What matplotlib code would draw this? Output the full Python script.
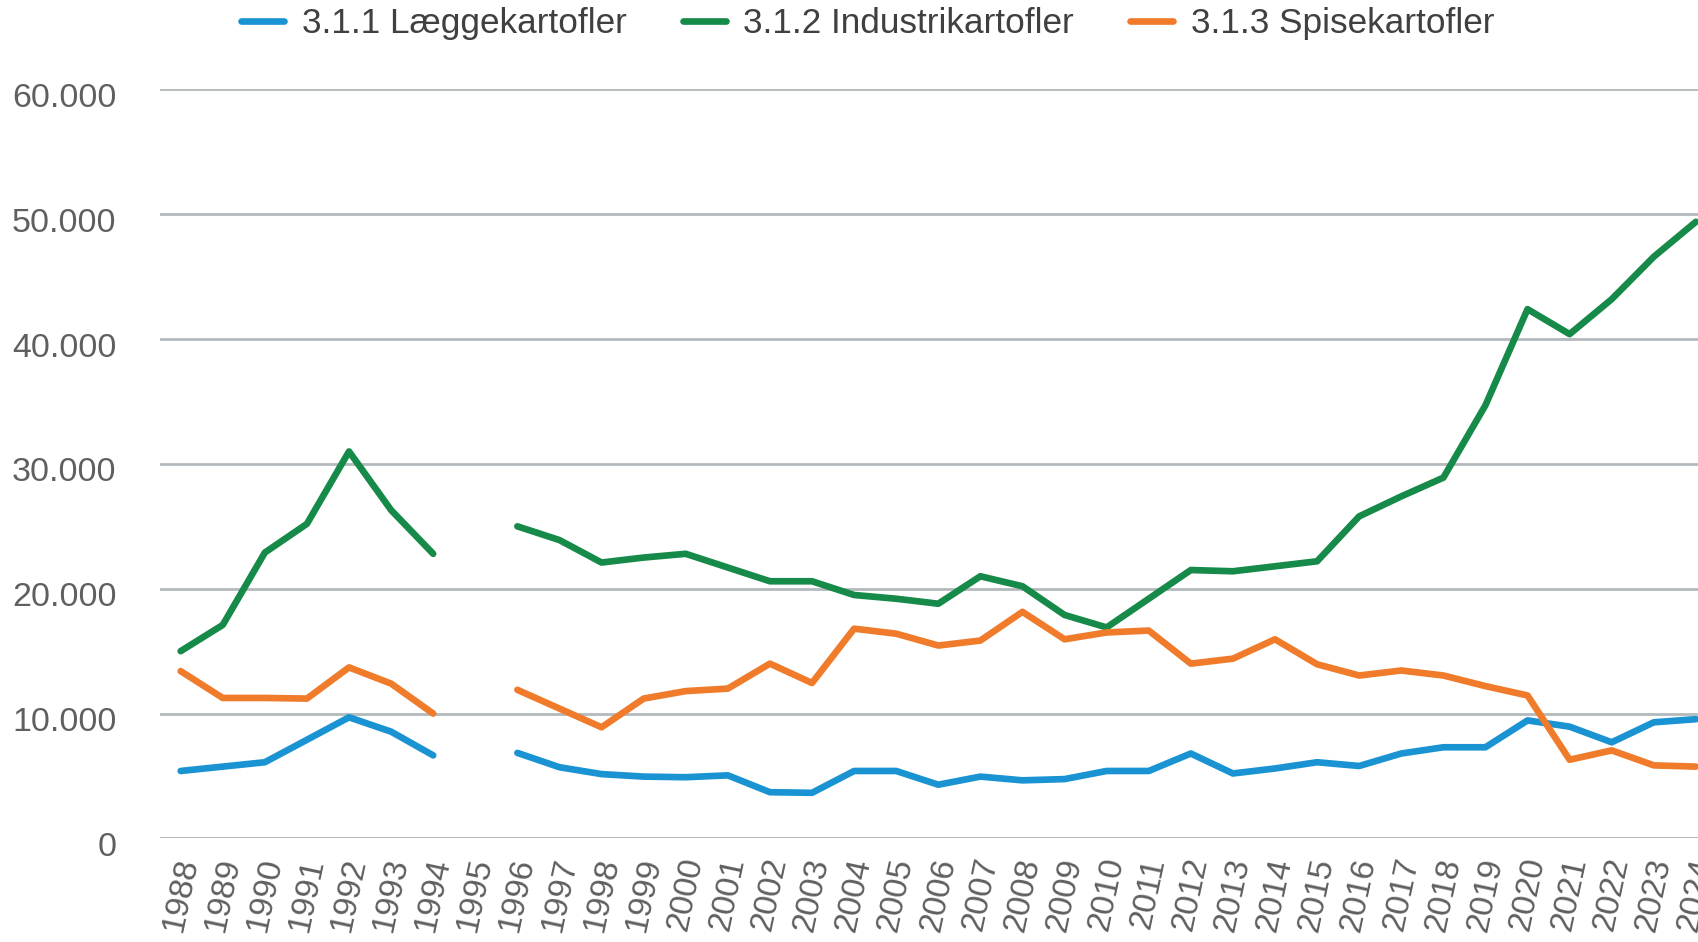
import numpy as np
import matplotlib.pyplot as plt
import matplotlib.ticker as ticker
import matplotlib.transforms as mtransforms

plt.rcParams['font.family'] = ['Liberation Sans', 'DejaVu Sans']

aar = list(range(1988, 2025))

# 1995 mangler i alle serier
laeggekartofler = [5400, 5750, 6100, 7900, 9700, 8550, 6650, np.nan, 6850, 5700,
                   5150, 4950, 4900, 5050, 3700, 3650, 5400, 5400, 4300, 4950,
                   4650, 4750, 5400, 5400, 6800, 5200, 5600, 6100, 5800, 6800,
                   7300, 7300, 9450, 8950, 7700, 9300, 9550]
industrikartofler = [15000, 17100, 22900, 25200, 31000, 26300, 22800, np.nan, 25000, 23900,
                     22100, 22500, 22800, 21700, 20600, 20600, 19500, 19200, 18800, 21000,
                     20200, 17900, 16900, 19200, 21500, 21400, 21800, 22200, 25800, 27400,
                     28900, 34700, 42400, 40400, 43200, 46600, 49400]
spisekartofler = [13400, 11250, 11250, 11200, 13700, 12400, 10000, np.nan, 11900, 10400,
                  8900, 11200, 11800, 12000, 14000, 12450, 16800, 16400, 15450, 15850,
                  18150, 15950, 16500, 16650, 14000, 14400, 15950, 13950, 13050, 13450,
                  13050, 12200, 11450, 6300, 7050, 5850, 5750]

serier = ['3.1.1 Læggekartofler', '3.1.2 Industrikartofler', '3.1.3 Spisekartofler']
farver = ['#1a93d3', '#168a48', '#ef7b2b']

fig = plt.figure(figsize=(16.98, 9.42), dpi=100)
ax = fig.add_axes([0.094, 0.11, 0.906, 0.795])

for navn, data, farve in zip(serier, [laeggekartofler, industrikartofler, spisekartofler], farver):
    ax.plot(aar, data, color=farve, linewidth=4.8, label=navn,
            solid_capstyle='round', solid_joinstyle='round', zorder=3)

ax.set_ylim(0, 60000)
ax.set_xlim(1987.5, 2024.05)
ax.set_yticks(range(0, 60001, 10000))
ax.yaxis.set_major_formatter(ticker.FuncFormatter(lambda v, p: f'{int(v):,}'.replace(',', '.')))
ax.set_xticks(aar)
ax.set_xticklabels([str(a) for a in aar], rotation=78, ha='center', va='top')

ax.grid(axis='y', color='#b3b9bc', linewidth=2, zorder=0)
ax.axhline(0, color='#cdd6e6', linewidth=2.2, zorder=1)
for s in ax.spines.values():
    s.set_visible(False)
ax.tick_params(axis='both', length=0, colors='#5f5f5f')
ax.tick_params(axis='y', pad=31, labelsize=24.5)
ax.tick_params(axis='x', pad=12, labelsize=24)

# y-tal sidder lidt under gitterlinjen i originalen
skub = mtransforms.ScaledTranslation(0, -4 / 72, fig.dpi_scale_trans)
for lbl in ax.get_yticklabels():
    lbl.set_transform(lbl.get_transform() + skub)

fig.legend(loc='center', bbox_to_anchor=(0.511, 0.975), ncol=3, frameon=False,
           fontsize=25.3, handlelength=1.22, handletextpad=0.5, columnspacing=1.6,
           labelcolor='#404040')

plt.savefig('out.png', dpi=100)
